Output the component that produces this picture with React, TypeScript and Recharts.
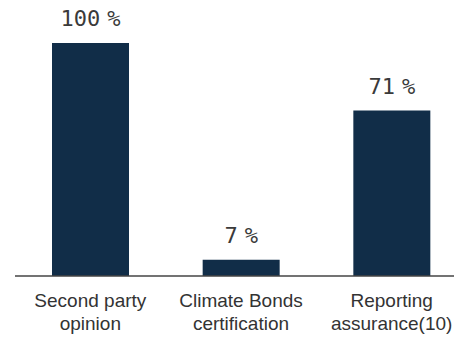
import { Bar, BarChart, LabelList, XAxis, YAxis } from "recharts";

const categories = ["Second party\nopinion", "Climate Bonds\ncertification", "Reporting\nassurance(10)"];
const shares = [100, 7, 71];

const data = categories.map((name, i) => ({ name, value: shares[i] }));

function CategoryTick({ x, y, payload }: any) {
  const lines = String(payload.value).split("\n");
  return (
    <text
      x={x}
      y={y}
      textAnchor="middle"
      fill="#333"
      fontFamily="'Liberation Sans', Arial, sans-serif"
      fontSize={19}
    >
      {lines.map((line, i) => (
        <tspan key={i} x={x} dy={23}>
          {line}
        </tspan>
      ))}
    </text>
  );
}

function PercentLabel({ x, y, width, value }: any) {
  return (
    <text
      x={x + width / 2}
      y={y - 17}
      textAnchor="middle"
      fill="#3a3a3a"
      fontFamily="'DejaVu Sans Mono', monospace"
      fontSize={22}
    >
      {value}
      <tspan dx={7}>%</tspan>
    </text>
  );
}

export default function App() {
  return (
    <div style={{ width: 467, height: 337, margin: "-8px 0 0 -8px" }}>
      <BarChart
        width={467}
        height={337}
        data={data}
        margin={{ top: 43, right: 0, bottom: 0, left: 15 }}
      >
        <YAxis hide domain={[0, 100]} />
        <XAxis
          dataKey="name"
          height={61}
          axisLine={{ stroke: "#444", strokeWidth: 1.5 }}
          tickLine={false}
          tick={<CategoryTick />}
          interval={0}
        />
        <Bar dataKey="value" fill="#112d48" barSize={77} isAnimationActive={false}>
          <LabelList dataKey="value" content={<PercentLabel />} />
        </Bar>
      </BarChart>
    </div>
  );
}
